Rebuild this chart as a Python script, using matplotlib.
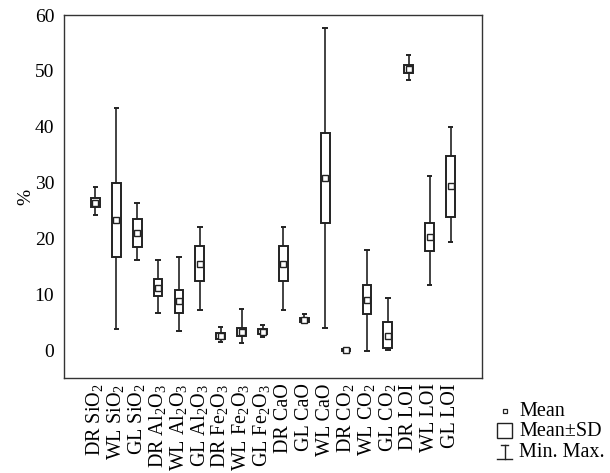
import matplotlib
matplotlib.use('Agg')
import matplotlib.pyplot as plt
from matplotlib.lines import Line2D
from matplotlib.patches import Rectangle

plt.rcParams['font.family'] = ['Liberation Serif', 'DejaVu Serif']
plt.rcParams['mathtext.fontset'] = 'custom'
plt.rcParams['mathtext.rm'] = 'Liberation Serif'

# categories and statistics
labels = [r'DR SiO$_2$', r'WL SiO$_2$', r'GL SiO$_2$',
          r'DR Al$_2$O$_3$', r'WL Al$_2$O$_3$', r'GL Al$_2$O$_3$',
          r'DR Fe$_2$O$_3$', r'WL Fe$_2$O$_3$', r'GL Fe$_2$O$_3$',
          'DR CaO', 'GL CaO', 'WL CaO',
          r'DR CO$_2$', r'WL CO$_2$', r'GL CO$_2$',
          'DR LOI', 'WL LOI', 'GL LOI']
means = [26.4, 23.3, 20.9, 11.2, 8.7, 15.5, 2.6, 3.3, 3.3, 15.5, 5.4, 30.8,
         0.0, 9.0, 2.6, 50.4, 20.2, 29.4]
sd_low = [25.7, 16.7, 18.4, 9.7, 6.7, 12.4, 2.0, 2.5, 2.8, 12.4, 5.0, 22.7,
          -0.1, 6.4, 0.4, 49.7, 17.8, 23.9]
sd_high = [27.3, 30.0, 23.5, 12.7, 10.7, 18.7, 3.1, 4.0, 3.8, 18.7, 5.8, 38.9,
           0.1, 11.6, 5.0, 51.0, 22.7, 34.8]
mins = [24.2, 3.8, 16.1, 6.7, 3.4, 7.2, 1.5, 1.2, 2.4, 7.2, 4.9, 4.0,
        -0.2, -0.1, 0.0, 48.3, 11.6, 19.3]
maxs = [29.2, 43.3, 26.3, 16.1, 16.7, 22.0, 4.1, 7.3, 4.4, 22.0, 6.4, 57.7,
        0.2, 18.0, 9.4, 52.8, 31.2, 40.0]

fig = plt.figure(figsize=(6.10, 4.73), dpi=100)
ax = fig.add_axes([0.105, 0.201, 0.685, 0.767])

pos = list(range(len(labels)))
col = '#222222'
ax.vlines(pos, mins, maxs, color=col, lw=1.2, zorder=1)
ax.hlines(mins, [p - 0.13 for p in pos], [p + 0.13 for p in pos], color=col, lw=1.4, zorder=1)
ax.hlines(maxs, [p - 0.13 for p in pos], [p + 0.13 for p in pos], color=col, lw=1.4, zorder=1)
ax.bar(pos, [h - l for h, l in zip(sd_high, sd_low)], bottom=sd_low, width=0.42,
       facecolor='white', edgecolor=col, linewidth=1.4, zorder=2)
ax.plot(pos, means, 's', ms=4.5, mfc='white', mec=col, mew=1.0, zorder=3)

ax.set_xlim(-1.5, 18.5)
ax.set_ylim(-5, 60)
ax.set_yticks([0, 10, 20, 30, 40, 50, 60])
ax.set_xticks(pos)
ax.set_xticklabels(labels, rotation=90, fontsize=14.5)
ax.tick_params(axis='x', length=0, pad=4)
ax.tick_params(axis='y', length=0, labelsize=14, pad=7)
ax.set_ylabel('%', fontsize=14, labelpad=0)
for s in ax.spines.values():
    s.set_linewidth(1.0)
    s.set_color('#333333')

# legend drawn in figure coordinates
W, H = 610.0, 473.0
def fx(x):
    return x / W
def fy(y):
    return 1 - y / H

fig.add_artist(Line2D([fx(505)], [fy(411)], marker='s', ms=3.5, mfc='white', mec=col,
                      mew=0.9, transform=fig.transFigure))
fig.add_artist(Rectangle((fx(497), fy(438)), fx(15), 15 / H, facecolor='white',
                         edgecolor=col, lw=1.0, transform=fig.transFigure))
fig.add_artist(Line2D([fx(504.5), fx(504.5)], [fy(445), fy(459)], color=col, lw=1.0,
                      transform=fig.transFigure))
fig.add_artist(Line2D([fx(501), fx(508)], [fy(445), fy(445)], color=col, lw=1.0,
                      transform=fig.transFigure))
fig.add_artist(Line2D([fx(497), fx(512)], [fy(459), fy(459)], color=col, lw=1.0,
                      transform=fig.transFigure))
for t, y in [('Mean', 411), ('Mean±SD', 431), ('Min. Max.', 452)]:
    fig.text(fx(519), fy(y), t, fontsize=14.5, va='center', ha='left')

fig.savefig('out.png', dpi=100)
